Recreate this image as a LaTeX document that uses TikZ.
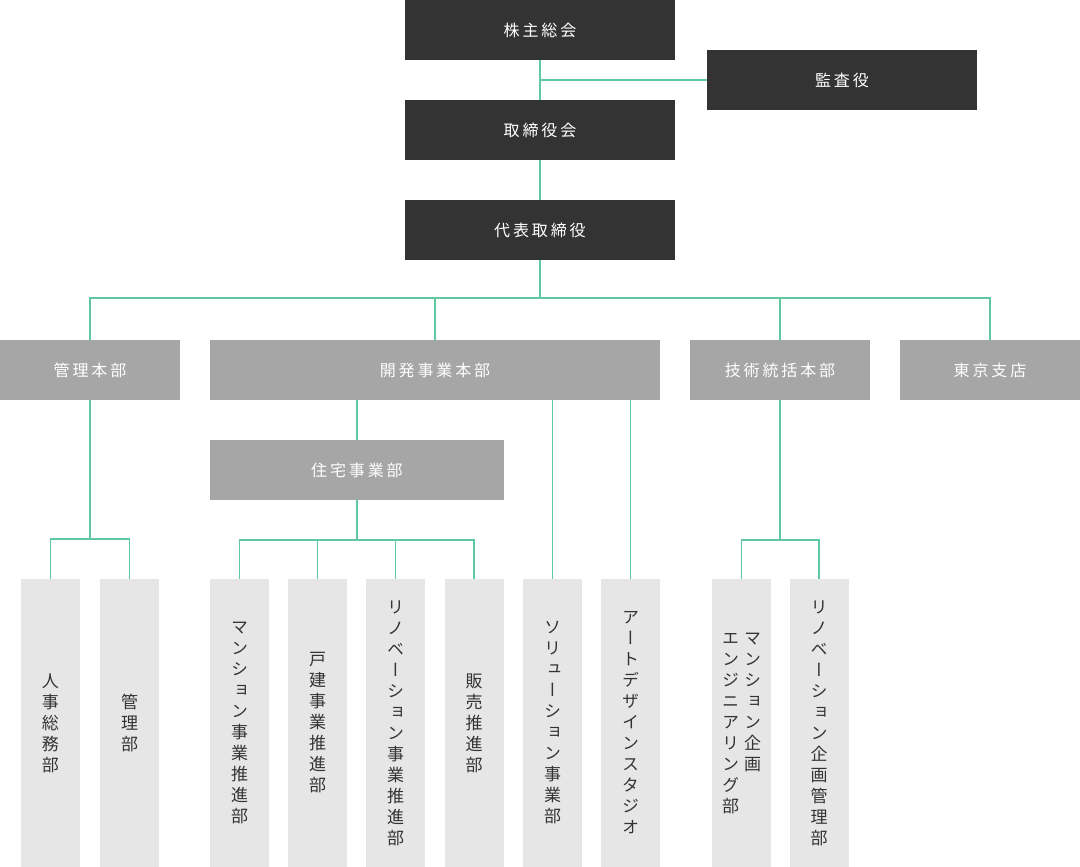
\documentclass[tikz,border=0pt]{standalone}
\usepackage{fontspec}
\newfontfamily\jp[LetterSpace=18]{Noto Sans CJK JP}
\newfontfamily\vjp[RawFeature=+vert]{Noto Sans CJK JP}
\definecolor{darkbox}{HTML}{333333}
\definecolor{graybox}{HTML}{A6A6A6}
\definecolor{lightbox}{HTML}{E6E6E6}
\definecolor{linkc}{RGB}{95,200,160}
\definecolor{vtextc}{HTML}{333333}
\makeatletter
\newcommand\vchars[1]{\vtop{\baselineskip=21pt\lineskip=0pt\vcharsi#1\relax}}
\def\vcharsi#1{\ifx\relax#1\else\hbox to 18pt{\hss#1\hss}\expandafter\vcharsi\fi}
\makeatother
\tikzset{
  base/.style={inner sep=0pt, outer sep=0pt, draw=none},
  darkb/.style={base, fill=darkbox, text=white, minimum width=270pt, minimum height=60pt, font=\jp\fontsize{16}{19}\selectfont},
  grayb/.style={base, fill=graybox, text=white, minimum height=60pt, font=\jp\fontsize{16}{19}\selectfont},
  lightb/.style={base, fill=lightbox, text=vtextc, minimum width=59pt, minimum height=288pt, font=\vjp\fontsize{17}{21}\selectfont},
  link/.style={draw=linkc, line width=1.5pt}
}
\begin{document}
\begin{tikzpicture}[x=1pt,y=-1pt]
\useasboundingbox (0,0) rectangle (1080,867);
% top
\node[darkb] (agm) at (540,30) {株主総会};
\node[darkb] (audit) at (842,80) {監査役};
\node[darkb] (board) at (540,130) {取締役会};
\node[darkb] (ceo) at (540,230) {代表取締役};
% divisions
\node[grayb, minimum width=180pt] (kanri) at (90,370) {管理本部};
\node[grayb, minimum width=450pt] (kaihatsu) at (435,370) {開発事業本部};
\node[grayb, minimum width=180pt] (gijutsu) at (780,370) {技術統括本部};
\node[grayb, minimum width=180pt] (tokyo) at (990,370) {東京支店};
\node[grayb, minimum width=294pt] (jutaku) at (357,470) {住宅事業部};
% departments
\node[lightb] (jinji) at (50.5,723) {\vchars{人事総務部}};
\node[lightb] (kanrib) at (129.5,723) {\vchars{管理部}};
\node[lightb] (m1) at (239.5,723) {\vchars{マンション事業推進部}};
\node[lightb] (m2) at (317.5,723) {\vchars{戸建事業推進部}};
\node[lightb] (m3) at (395.5,723) {\vchars{リノベーション事業推進部}};
\node[lightb] (m4) at (474,723) {\vchars{販売推進部}};
\node[lightb] (sol) at (552.5,723) {\vchars{ソリューション事業部}};
\node[lightb] (art) at (630.5,723) {\vchars{アートデザインスタジオ}};
\node[lightb] (g1) at (741.5,723) {\hbox{\vchars{エンジニアリング部}\hskip4pt\vchars{マンション企画}}};
\node[lightb] (g2) at (819,723) {\vchars{リノベーション企画管理部}};
% connectors
\coordinate (bus) at (540,298);
\coordinate (kb) at (90,539);
\coordinate (jb) at (357,540);
\coordinate (gb) at (780,540);
\draw[link] (agm.south) -- (board.north);
\draw[link] (agm.south |- audit.west) -- (audit.west);
\draw[link] (board.south) -- (ceo.north);
\draw[link] (ceo.south) -- (bus);
\draw[link] (kanri.north) |- (bus) -| (tokyo.north);
\draw[link] (kaihatsu.north) -- (kaihatsu.north |- bus);
\draw[link] (gijutsu.north) -- (gijutsu.north |- bus);
\draw[link] (kanri.south) -- (kb);
\draw[link] (jinji.north) |- (kb) -| (kanrib.north);
\draw[link] (jutaku.north) -- (jutaku.north |- kaihatsu.south);
\draw[link] (jutaku.south) -- (jb);
\draw[link] (m1.north) |- (jb) -| (m4.north);
\draw[link] (m2.north) -- (m2.north |- jb);
\draw[link] (m3.north) -- (m3.north |- jb);
\draw[link] (sol.north) -- (sol.north |- kaihatsu.south);
\draw[link] (art.north) -- (art.north |- kaihatsu.south);
\draw[link] (gijutsu.south) -- (gb);
\draw[link] (g1.north) |- (gb) -| (g2.north);
\end{tikzpicture}
\end{document}
